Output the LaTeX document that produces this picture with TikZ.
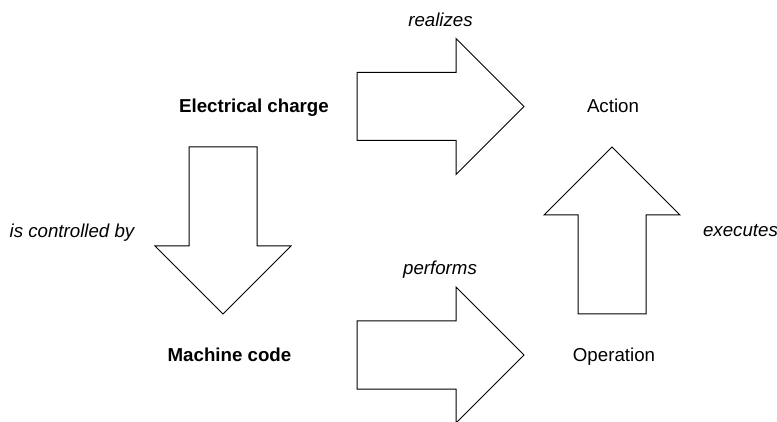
\documentclass[tikz,border=0pt]{standalone}
\usepackage{fontspec}
\setmainfont{Liberation Sans}
\begin{document}
\begin{tikzpicture}[x=1pt,y=-1pt,
  blockarrow/.style={draw=black,line width=1pt,fill=white,line join=miter},
  term/.style={inner sep=0pt,anchor=base,font=\fontsize{18.7}{22}\selectfont},
  strong/.style={term,font=\fontsize{18.7}{22}\selectfont\bfseries},
  verb/.style={term,font=\fontsize{18.7}{22}\selectfont\itshape}]
\useasboundingbox (0,0) rectangle (777,422);
\clip (0,0) rectangle (777,422);

% horizontal block arrows
\draw[blockarrow] (357,72.5) -- (456,72.5) -- (456,38.5) -- (524,106.5)
  -- (456,174.5) -- (456,140.5) -- (357,140.5) -- cycle;
\draw[blockarrow] (357,321) -- (456,321) -- (456,287) -- (524,355)
  -- (456,423) -- (456,389) -- (357,389) -- cycle;

% downward block arrow
\draw[blockarrow] (189,147) -- (257,147) -- (257,246) -- (291,246)
  -- (223,314) -- (155,246) -- (189,246) -- cycle;

% upward block arrow
\draw[blockarrow] (578,314) -- (646,314) -- (646,215) -- (680,215)
  -- (612,147) -- (544,215) -- (578,215) -- cycle;

% concepts (placed by baseline)
\node[strong] (charge) at (254,112.7) {Electrical charge};
\node[strong] (code) at (229.5,361.5) {Machine code};
\node[term] (action) at (613,112.7) {Action};
\node[term] (operation) at (614,361) {Operation};

% relations
\node[verb] (realizes) at (440.5,26.7) {realizes};
\node[verb] (performs) at (440,274.3) {performs};
\node[verb] (controlled) at (72,237.5) {is controlled by};
\node[verb] (executes) at (740.5,236.7) {executes};
\end{tikzpicture}
\end{document}
